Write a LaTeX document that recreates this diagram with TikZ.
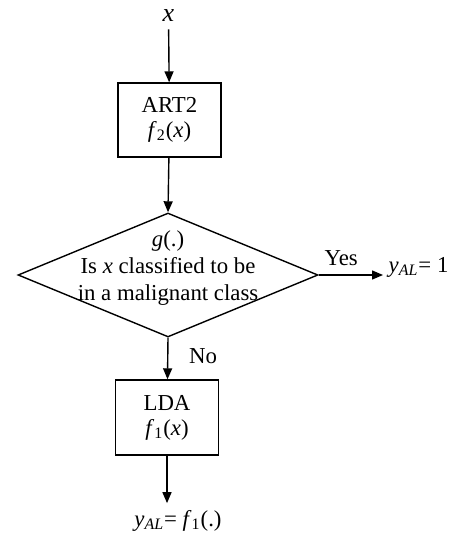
\documentclass[tikz,border=0pt]{standalone}
\usepackage{fontspec}
\setmainfont{Liberation Serif}
\usepackage{tikz}
\usetikzlibrary{arrows.meta,shapes.geometric}
\newcommand\mi[1]{\textit{#1}}

\begin{document}
\begin{tikzpicture}[x=0.5pt,y=-0.5pt,line width=0.7pt,
        font=\fontsize{11.4}{12.5}\selectfont,
        >={Triangle[length=5.5pt,width=4.5pt]}]
        \useasboundingbox (0,0) rectangle (456,533);

        \node (xin)      at (168.5,16)  {\fontsize{13}{13}\selectfont\mi{x}};
        \node (art)      at (169.5,120) [draw,minimum height=37pt,minimum width=51.5pt,align=center] {ART2\\\mi{f}\textsubscript{2}(\mi{x})};
        \node (decide)   at (168,275)   [draw,diamond,inner sep=0,minimum height=62pt,minimum width=150pt] {};
        \node (decidetxt) at (168,268)  [align=center,font=\fontsize{11.4}{13.5}\selectfont] {\mi{g}(.)\\Is \mi{x} classified to be\\in a malignant class};
        \node (yesout)   at (388,267)   [anchor=west,inner sep=0] {\mi{y}\textsubscript{\mi{AL}}= 1};
        \node (lda)      at (167,417.5) [draw,minimum height=37.5pt,minimum width=51.5pt,align=center] {LDA\\\mi{f}\textsubscript{1}(\mi{x})};
        \node (ldaout)   at (178,521)   {\mi{y}\textsubscript{\mi{AL}}= \mi{f}\textsubscript{1}(.)};

        \draw[->] (xin) -- (art);
        \draw[->] (art) -- (decide.north);
        \draw[->] (decide.east) -- ([xshift=-2.5pt]decide.east -| yesout.west) node[pos=0.35,above=1pt]{Yes};
        \draw[->] (decide.south) -- (lda) node[pos=0.45,right=7pt]{No};
        \draw[->] (lda) -- (lda |- ldaout.north);
    \end{tikzpicture}
\end{document}
